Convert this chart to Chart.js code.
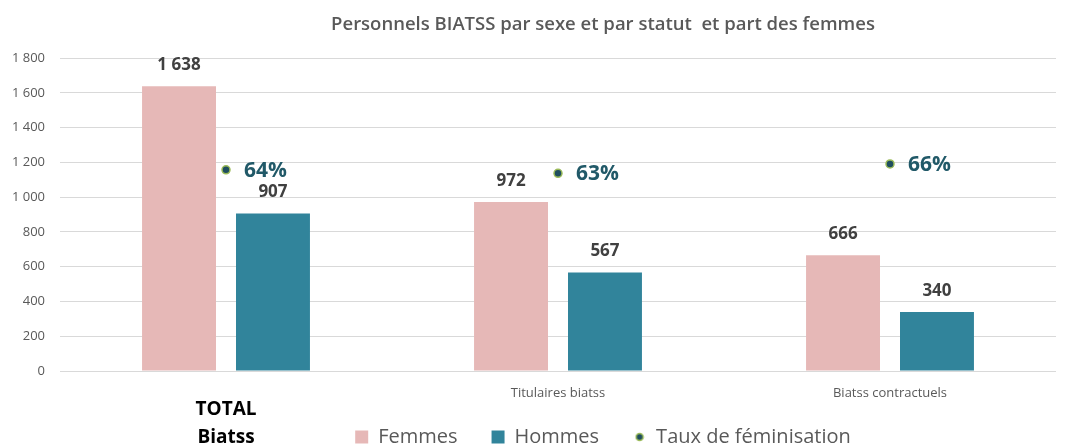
<!DOCTYPE html>
<html>
<head>
<meta charset="utf-8">
<script src="https://cdn.jsdelivr.net/npm/chart.js@4"></script>
<style>
  html, body { margin: 0; padding: 0; background: #fff; overflow: hidden; }
  #wrap { width: 1066px; height: 445px; overflow: hidden; }
</style>
</head>
<body>
<div id="wrap"><canvas id="chart" width="1206" height="509"></canvas></div>
<script>
// data
const categories = [["TOTAL", "Biatss"], "Titulaires biatss", "Biatss contractuels"];
const femmes = [1638, 972, 666];
const hommes = [907, 567, 340];
const tauxFeminisation = [0.643, 0.632, 0.662];
const yTickValues = [0, 200, 400, 600, 800, 1000, 1200, 1400, 1600, 1800];

const FONT = '"Open Sans", "DejaVu Sans", sans-serif';

function formatNumber(v) {
    return v.toString().replace(/\B(?=(\d{3})+(?!\d))/g, " ");
}

// small dot used as legend marker for the rate series
const legendDot = document.createElement("canvas");
legendDot.width = 10;
legendDot.height = 10;
const g = legendDot.getContext("2d");
g.beginPath();
g.arc(5, 5, 3.5, 0, Math.PI * 2);
g.fillStyle = "#1f4e5f";
g.fill();
g.lineWidth = 1.5;
g.strokeStyle = "#9bbb59";
g.stroke();

const valueLabels = {
    id: "valueLabels",
    afterDatasetsDraw(chart) {
        const ctx = chart.ctx;
        ctx.save();
        chart.data.datasets.forEach((ds, i) => {
            const meta = chart.getDatasetMeta(i);
            meta.data.forEach((el, j) => {
                const v = ds.data[j];
                ctx.textBaseline = "middle";
                if (ds.type === "line") {
                    ctx.font = "bold 21px " + FONT;
                    ctx.fillStyle = "#215968";
                    ctx.textAlign = "left";
                    ctx.fillText(Math.round(v * 100) + "%", el.x + 18, el.y + 1);
                } else {
                    ctx.font = "bold 17px " + FONT;
                    ctx.fillStyle = "#404040";
                    ctx.textAlign = "center";
                    ctx.fillText(formatNumber(v), el.x, el.y - 21);
                }
            });
        });
        ctx.restore();
    }
};

// the legend sits over the lower part of the category axis, as in the original
const liftLegend = {
    id: "liftLegend",
    afterLayout(chart) {
        const lg = chart.legend;
        lg.top -= 52;
        lg.bottom -= 52;
    }
};

new Chart(document.getElementById("chart").getContext("2d"), {
    type: "bar",
    data: {
        labels: categories,
        datasets: [
            {
                label: "Femmes",
                data: femmes,
                backgroundColor: "#e6b8b7",
                categoryPercentage: 0.566,
                barPercentage: 0.787
            },
            {
                label: "Hommes",
                data: hommes,
                backgroundColor: "#31849b",
                categoryPercentage: 0.566,
                barPercentage: 0.787
            },
            {
                type: "line",
                label: "Taux de féminisation",
                data: tauxFeminisation,
                yAxisID: "y1",
                showLine: false,
                pointRadius: 4,
                pointBackgroundColor: "#1f4e5f",
                pointBorderColor: "#9bbb59",
                pointBorderWidth: 1.5
            }
        ]
    },
    options: {
        responsive: false,
        animation: false,
        layout: { padding: 0 },
        plugins: {
            tooltip: { enabled: false },
            title: {
                display: true,
                text: "Personnels BIATSS par sexe et par statut  et part des femmes",
                color: "#595959",
                font: { family: FONT, size: 18.5, weight: 600 },
                padding: { top: 14, bottom: 22 }
            },
            legend: {
                position: "bottom",
                labels: {
                    usePointStyle: true,
                    boxWidth: 13,
                    boxHeight: 13,
                    padding: 34,
                    color: "#595959",
                    font: { family: FONT, size: 20 },
                    generateLabels(chart) {
                        const items = Chart.defaults.plugins.legend.labels.generateLabels(chart);
                        items.forEach(item => {
                            if (item.datasetIndex === 2) {
                                item.pointStyle = legendDot;
                            } else {
                                item.pointStyle = "rect";
                                item.lineWidth = 0;
                            }
                        });
                        return items;
                    }
                }
            }
        },
        scales: {
            x: {
                grid: { display: false },
                border: { display: false },
                ticks: {
                    autoSkip: false,
                    maxRotation: 0,
                    padding: 14,
                    crossAlign: "center",
                    color: c => c.index === 0 ? "#000000" : "#595959",
                    font: c => c.index === 0
                        ? { family: FONT, size: 19, weight: "bold", lineHeight: "28px" }
                        : { family: FONT, size: 13, lineHeight: "90px" }
                },
                afterFit(scale) { scale.height = 74; }
            },
            y: {
                min: 0,
                max: 1800,
                afterBuildTicks(scale) {
                    scale.ticks = yTickValues.map(v => ({ value: v }));
                },
                grid: { color: "#d9d9d9", drawTicks: false },
                border: { display: false },
                ticks: {
                    color: "#595959",
                    padding: 15,
                    font: { family: FONT, size: 13 },
                    callback: v => formatNumber(v)
                },
                afterFit(scale) { scale.width = 60; }
            },
            y1: {
                position: "right",
                min: 0,
                max: 1,
                grid: { display: false },
                border: { display: false },
                ticks: { display: false },
                afterFit(scale) { scale.width = 150; }
            }
        }
    },
    plugins: [valueLabels, liftLegend]
});
</script>
</body>
</html>
